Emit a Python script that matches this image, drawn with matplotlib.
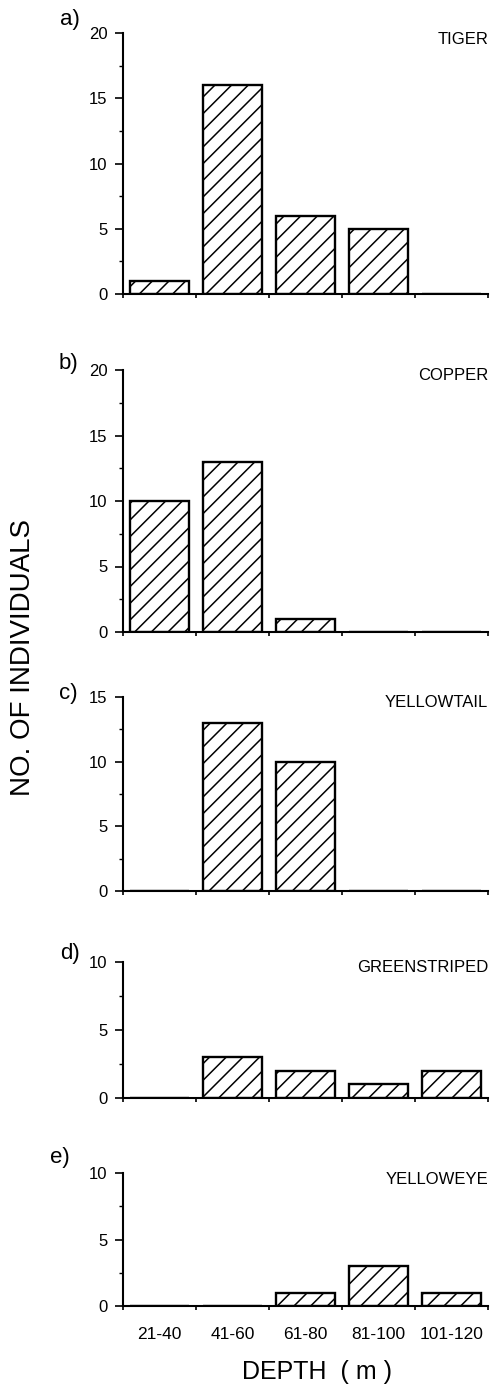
import matplotlib
matplotlib.use("Agg")
import matplotlib.pyplot as plt
import numpy as np

plt.rcParams['font.family'] = ['Liberation Sans', 'DejaVu Sans']
plt.rcParams['hatch.linewidth'] = 1.1

depth_bins = ["21-40", "41-60", "61-80", "81-100", "101-120"]
panel_letters = ["a)", "b)", "c)", "d)", "e)"]
species = ["TIGER", "COPPER", "YELLOWTAIL", "GREENSTRIPED", "YELLOWEYE"]
tiger = [1, 16, 6, 5, 0]
copper = [10, 13, 1, 0, 0]
yellowtail = [0, 13, 10, 0, 0]
greenstriped = [0, 3, 2, 1, 2]
yelloweye = [0, 0, 1, 3, 1]
counts = [tiger, copper, yellowtail, greenstriped, yelloweye]
y_max = [20, 20, 15, 10, 10]

W, H = 497, 1396
fig = plt.figure(figsize=(W / 100, H / 100), dpi=100)

# axes extents in pixels (top, bottom)
panel_px = [(33, 294), (370, 632), (697, 891), (962, 1098), (1173, 1306)]
letter_px = [(70, 20), (68, 364), (68, 694), (70, 953), (60, 1157)]
x0, x1 = 123, 488

x = np.arange(len(depth_bins)) + 0.5

for i in range(5):
    top, bot = panel_px[i]
    ax = fig.add_axes([x0 / W, 1 - bot / H, (x1 - x0) / W, (bot - top) / H])
    ax.bar(x, counts[i], width=0.8, facecolor='white', edgecolor='black',
           linewidth=1.7, hatch='//')
    ax.set_xlim(0, 5)
    ax.set_ylim(0, y_max[i])
    ax.set_yticks(np.arange(0, y_max[i] + 1, 5))
    ax.set_yticks(np.arange(2.5, y_max[i], 5), minor=True)
    ax.set_xticks(np.arange(0, 6))
    ax.set_xticklabels([])
    ax.spines['top'].set_visible(False)
    ax.spines['right'].set_visible(False)
    ax.spines['left'].set_linewidth(1.5)
    ax.spines['bottom'].set_linewidth(1.5)
    ax.tick_params(axis='y', which='major', length=6, width=1.2, pad=5, labelsize=12)
    ax.tick_params(axis='y', which='minor', length=3, width=1.0)
    ax.tick_params(axis='x', which='major', length=3, width=1.2)
    ax.annotate(species[i], xy=(1, 1), xycoords='axes fraction',
                xytext=(0, -6), textcoords='offset pixels',
                ha='right', va='center', fontsize=12)
    lx, ly = letter_px[i]
    fig.text(lx / W, 1 - ly / H, panel_letters[i], ha='center', va='center', fontsize=16)
    if i == 4:
        ax.set_xticks(x, minor=True)
        ax.set_xticklabels(depth_bins, minor=True, fontsize=12.5)
        ax.tick_params(axis='x', which='minor', length=0, pad=15)

fig.text(23 / W, 1 - 657 / H, "NO. OF INDIVIDUALS", rotation=90,
         ha='center', va='center', fontsize=20)
fig.text(317 / W, 1 - 1372 / H, "DEPTH  ( m )", ha='center', va='center', fontsize=18)

fig.savefig("out.png", dpi=100)
